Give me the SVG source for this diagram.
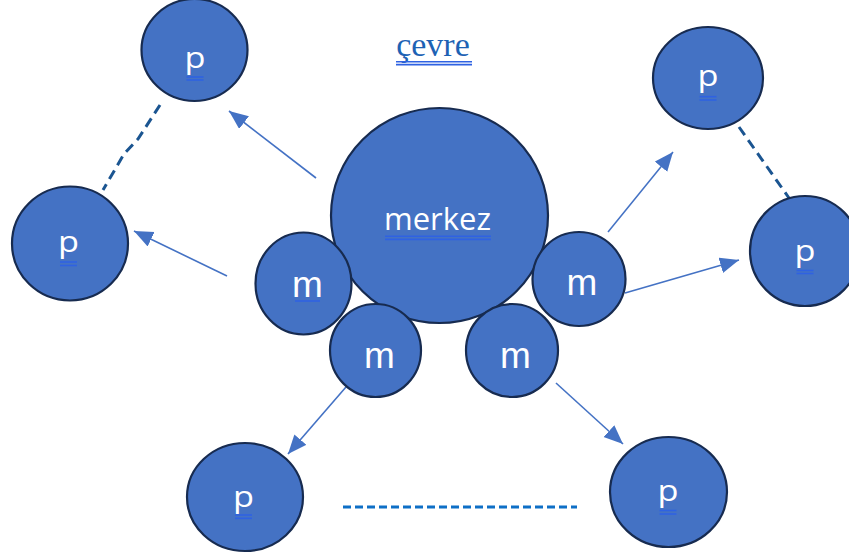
<svg xmlns="http://www.w3.org/2000/svg" width="849" height="558" viewBox="0 0 849 558">
<style>
.node{fill:#4472C4;stroke:#172B50;stroke-width:2.2}
.lbl{fill:#FFFFFF;text-anchor:middle}
.p{font-family:"Open Sans","Liberation Sans",sans-serif;font-size:29px}
.m{font-family:"Liberation Sans",Arial,sans-serif;font-size:37px}
.ul{stroke:#2F62E2;stroke-width:1.6;fill:none}
.arrow{stroke:#4472C4;stroke-width:1.6;fill:none;marker-end:url(#ah)}
.dash1{stroke:#1B5591;stroke-width:3;fill:none;stroke-dasharray:10 6}
.dash2{stroke:#0E6FC6;stroke-width:3;fill:none;stroke-dasharray:8 4}
</style>
<defs>
<marker id="ah" markerUnits="userSpaceOnUse" markerWidth="20" markerHeight="17" refX="19" refY="8" orient="auto">
<path d="M0,0 L19,8 L0,16 z" fill="#4472C4"/>
</marker>
</defs>
<rect width="849" height="558" fill="#FFFFFF"/>

<g id="title">
<text x="433" y="56" text-anchor="middle" font-family="'Liberation Serif','Times New Roman',serif" font-size="34" fill="#1D62B4">çevre</text>
<line class="ul" x1="396" y1="61.7" x2="472" y2="61.7"/>
<line class="ul" x1="396" y1="64.6" x2="472" y2="64.6"/>
</g>

<g id="connectors">
<line class="arrow" x1="316" y1="178" x2="229" y2="111"/>
<line class="arrow" x1="227" y1="276" x2="134" y2="231"/>
<line class="arrow" x1="608" y1="232" x2="673" y2="152"/>
<line class="arrow" x1="625" y1="293" x2="739" y2="260"/>
<line class="arrow" x1="346" y1="387" x2="288" y2="454"/>
<line class="arrow" x1="556" y1="383" x2="623" y2="444"/>
<path class="dash1" d="M160,105 L138,139 L124,154 L103,190" stroke-linejoin="round"/>
<line class="dash1" x1="739" y1="127" x2="789" y2="198"/>
<line class="dash2" x1="343" y1="507" x2="577" y2="507"/>
</g>

<g id="p-top-left">
<ellipse class="node" cx="194.5" cy="50" rx="53" ry="51"/>
<text class="lbl p" x="195" y="68" textLength="21" lengthAdjust="spacingAndGlyphs">p</text>
<line class="ul" x1="186.5" y1="77" x2="203.5" y2="77"/>
<line class="ul" x1="186.5" y1="80" x2="203.5" y2="80"/>
</g>

<g id="p-left">
<ellipse class="node" cx="70" cy="243.5" rx="58" ry="57"/>
<text class="lbl p" x="68.5" y="252" textLength="21" lengthAdjust="spacingAndGlyphs">p</text>
<line class="ul" x1="60" y1="262" x2="77" y2="262"/>
<line class="ul" x1="60" y1="265.5" x2="77" y2="265.5"/>
</g>

<g id="p-top-right">
<ellipse class="node" cx="708" cy="78" rx="55" ry="51"/>
<text class="lbl p" x="708" y="86" textLength="21" lengthAdjust="spacingAndGlyphs">p</text>
<line class="ul" x1="699.5" y1="96.7" x2="716.5" y2="96.7"/>
<line class="ul" x1="699.5" y1="100" x2="716.5" y2="100"/>
</g>

<g id="p-right">
<ellipse class="node" cx="805" cy="251" rx="55" ry="55"/>
<text class="lbl p" x="805" y="261" textLength="21" lengthAdjust="spacingAndGlyphs">p</text>
<line class="ul" x1="796.5" y1="270.5" x2="813.5" y2="270.5"/>
<line class="ul" x1="796.5" y1="273.5" x2="813.5" y2="273.5"/>
</g>

<g id="p-bottom-left">
<ellipse class="node" cx="245" cy="497" rx="58" ry="54"/>
<text class="lbl p" x="243.5" y="507" textLength="21" lengthAdjust="spacingAndGlyphs">p</text>
<line class="ul" x1="235" y1="515" x2="252" y2="515"/>
<line class="ul" x1="235" y1="518.3" x2="252" y2="518.3"/>
</g>

<g id="p-bottom-right">
<ellipse class="node" cx="668.5" cy="492" rx="58.5" ry="55"/>
<text class="lbl p" x="668" y="501" textLength="21" lengthAdjust="spacingAndGlyphs">p</text>
<line class="ul" x1="659.5" y1="510.5" x2="676.5" y2="510.5"/>
<line class="ul" x1="659.5" y1="514" x2="676.5" y2="514"/>
</g>

<g id="merkez">
<ellipse class="node" cx="439.5" cy="215.5" rx="108.5" ry="107.5"/>
<text class="lbl" x="437.5" y="230" font-family="'Open Sans','Liberation Sans',sans-serif" font-size="31">merkez</text>
<line class="ul" x1="385" y1="236.2" x2="491" y2="236.2"/>
<line class="ul" x1="385" y1="239.4" x2="491" y2="239.4"/>
</g>

<g id="m-top-left">
<ellipse class="node" cx="303.5" cy="283.5" rx="48" ry="51"/>
<text class="lbl m" x="307.5" y="296.7">m</text>
<line class="ul" x1="295" y1="301" x2="320" y2="301"/>
</g>

<g id="m-top-right">
<ellipse class="node" cx="579" cy="279" rx="46.5" ry="47"/>
<text class="lbl m" x="582" y="295">m</text>
</g>

<g id="m-bottom-left">
<ellipse class="node" cx="375.5" cy="350.5" rx="45.5" ry="46.5"/>
<text class="lbl m" x="379.5" y="368">m</text>
</g>

<g id="m-bottom-right">
<ellipse class="node" cx="512" cy="350.5" rx="46" ry="46.5"/>
<text class="lbl m" x="515.5" y="368">m</text>
</g>
</svg>
